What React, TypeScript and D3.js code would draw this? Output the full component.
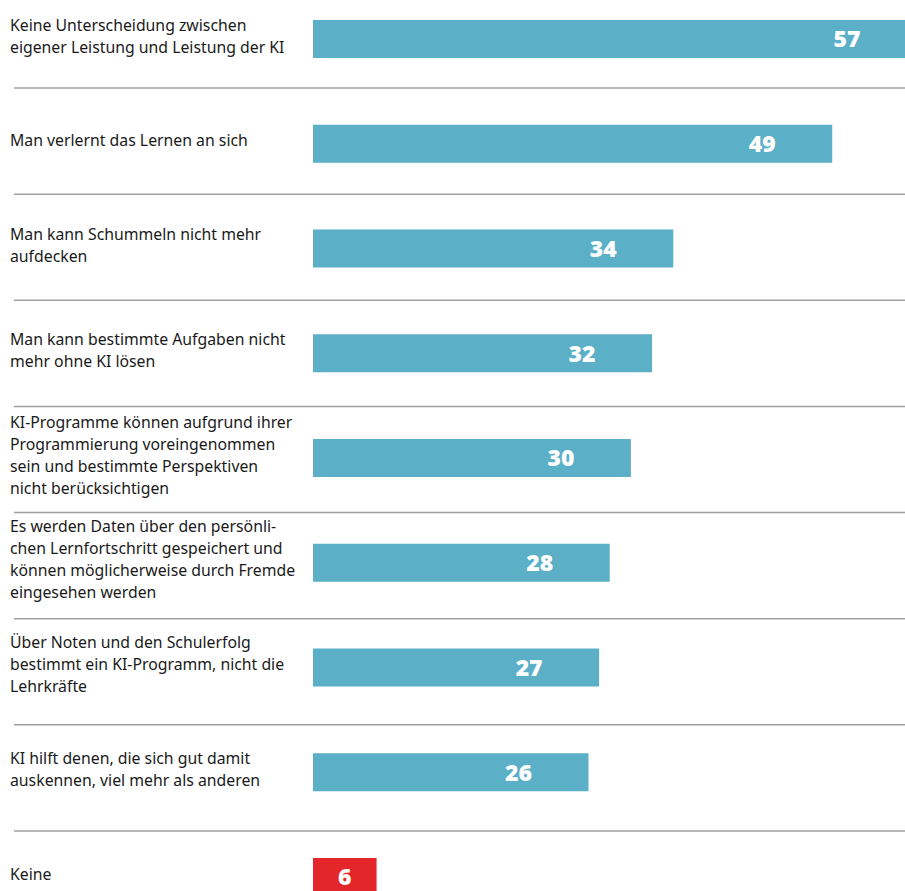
import React, { useEffect, useRef } from 'react';
import * as d3 from 'd3';

const categories: string[][] = [
  ['Keine Unterscheidung zwischen', 'eigener Leistung und Leistung der KI'],
  ['Man verlernt das Lernen an sich'],
  ['Man kann Schummeln nicht mehr', 'aufdecken'],
  ['Man kann bestimmte Aufgaben nicht', 'mehr ohne KI lösen'],
  ['KI-Programme können aufgrund ihrer', 'Programmierung voreingenommen', 'sein und bestimmte Perspektiven', 'nicht berücksichtigen'],
  ['Es werden Daten über den persönli-', 'chen Lernfortschritt gespeichert und', 'können möglicherweise durch Fremde', 'eingesehen werden'],
  ['Über Noten und den Schulerfolg', 'bestimmt ein KI-Programm, nicht die', 'Lehrkräfte'],
  ['KI hilft denen, die sich gut damit', 'auskennen, viel mehr als anderen'],
  ['Keine'],
];
const values: number[] = [57, 49, 34, 32, 30, 28, 27, 26, 6];
const highlight: boolean[] = [false, false, false, false, false, false, false, false, true];

const WIDTH = 905;
const HEIGHT = 891;

const App = () => {
  const svgRef = useRef<SVGSVGElement | null>(null);

  useEffect(() => {
    document.body.style.margin = '0';
    if (!svgRef.current) return;
    const svg = d3.select(svgRef.current);
    svg.selectAll('*').remove();

    const x = d3.scaleLinear().domain([0, 57]).range([313, 917]);
    // row bands for separators, point scale for bar centres
    const band = d3.scaleBand<number>()
      .domain(values.map((_, i) => i))
      .range([-18, 937]);
    const yc = d3.scalePoint<number>()
      .domain(values.map((_, i) => i))
      .range([39, 877]);
    const barH = 38;
    const lineH = 22;

    // separator lines
    svg.append('g')
      .selectAll('line')
      .data(values.slice(1))
      .join('line')
      .attr('x1', 14)
      .attr('x2', WIDTH)
      .attr('y1', (_, i) => band(i + 1)!)
      .attr('y2', (_, i) => band(i + 1)!)
      .attr('stroke', '#a0a0a0')
      .attr('stroke-width', 1.5);

    const rows = svg.append('g')
      .selectAll('g')
      .data(values)
      .join('g')
      .attr('transform', (_, i) => `translate(0,${yc(i)!})`);

    rows.append('rect')
      .attr('x', x(0))
      .attr('y', -barH / 2)
      .attr('width', d => x(d) - x(0))
      .attr('height', barH)
      .attr('fill', (_, i) => (highlight[i] ? '#e3262a' : '#5bafc6'));

    rows.append('text')
      .attr('x', d => (d < 10 ? (x(0) + x(d)) / 2 : x(d) - 70))
      .attr('y', 0)
      .attr('dy', '0.36em')
      .attr('text-anchor', 'middle')
      .attr('fill', '#fff')
      .style('font-family', '"Open Sans", sans-serif')
      .style('font-weight', 800)
      .style('font-size', '23px')
      .text(d => d);

    rows.append('text')
      .attr('x', 10)
      .style('font-family', '"Noto Sans", sans-serif')
      .style('font-size', '15.8px')
      .attr('fill', '#1a1a1a')
      .each(function (_, i) {
        const lines = categories[i];
        const t = d3.select(this);
        lines.forEach((ln, k) => {
          t.append('tspan')
            .attr('x', 10)
            .attr('y', (k - (lines.length - 1) / 2) * lineH - 3)
            .attr('dy', '0.35em')
            .text(ln);
        });
      });
  }, []);

  return <svg ref={svgRef} width={WIDTH} height={HEIGHT} style={{ display: 'block', background: '#fff' }} />;
};

export default App;
